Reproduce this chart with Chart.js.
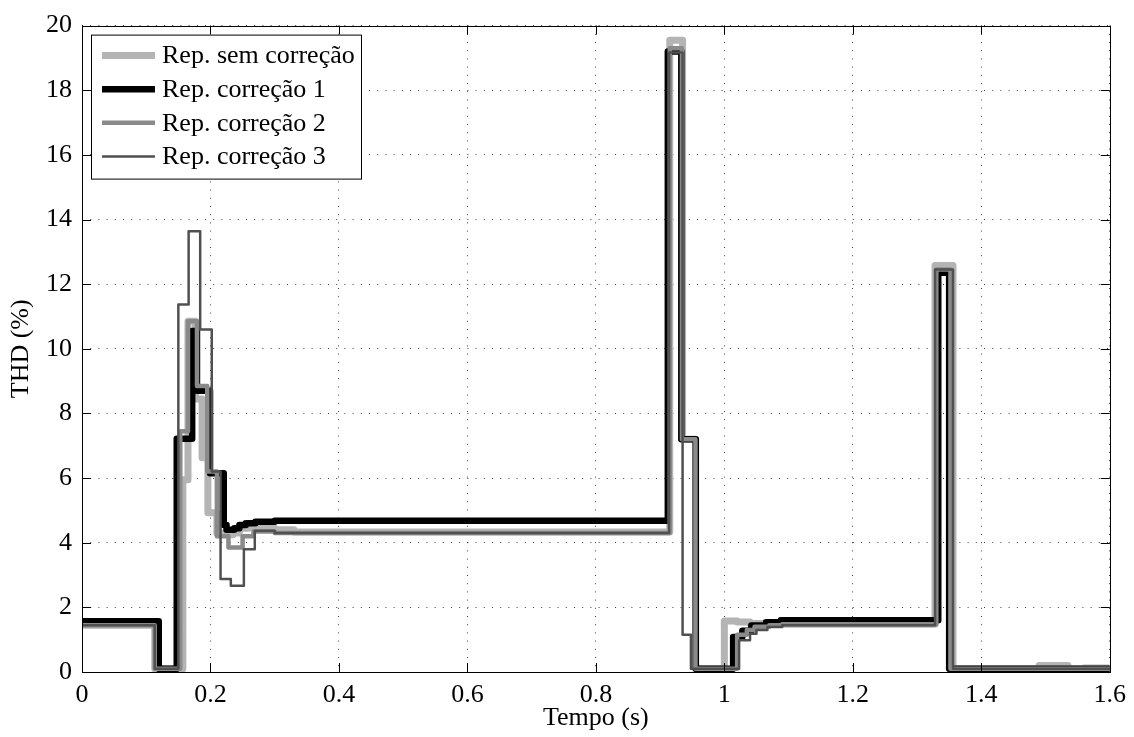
<!DOCTYPE html>
<html>
<head>
<meta charset="utf-8">
<title>THD x Tempo</title>
<script src="https://cdn.jsdelivr.net/npm/chart.js@4.4.1/dist/chart.umd.min.js"></script>
<style>
  html, body { margin: 0; padding: 0; background: #fff; }
  #wrap { width: 1134px; height: 737px; }
</style>
</head>
<body>
<div id="wrap"><canvas id="thdChart" width="1134" height="737"></canvas></div>
<script>
// Each series: switching instants (s) and the THD (%) held until the next instant
const tSem = [0, 0.1133, 0.157, 0.165, 0.1767, 0.187, 0.196, 0.21, 0.222, 0.235, 0.245, 0.26, 0.28, 0.30, 0.33, 0.915, 0.935, 0.955, 1.0, 1.02, 1.04, 1.06, 1.328, 1.356, 1.49, 1.535, 1.56, 1.6];
const vSem = [1.45, 0.1, 5.95, 10.85, 8.45, 6.63, 4.93, 4.3, 4.25, 4.3, 4.45, 4.5, 4.45, 4.4, 4.33, 19.55, 7.2, 0.1, 1.58, 1.55, 1.5, 1.48, 12.58, 0.1, 0.2, 0.1, 0.12, 0.15];

const tCorr1 = [0, 0.1195, 0.1475, 0.1715, 0.179, 0.1993, 0.2207, 0.225, 0.237, 0.245, 0.255, 0.27, 0.3, 0.912, 0.933, 0.9556, 1.0137, 1.028, 1.042, 1.065, 1.088, 1.333, 1.35, 1.6];
const vCorr1 = [1.57, 0.1, 7.22, 10.55, 8.7, 6.15, 4.55, 4.4, 4.45, 4.55, 4.6, 4.65, 4.68, 19.2, 7.2, 0.1, 1.08, 1.28, 1.44, 1.54, 1.6, 12.35, 0.1, 0.12];

const tCorr2 = [0, 0.1133, 0.153, 0.165, 0.179, 0.195, 0.21, 0.228, 0.25, 0.267, 0.3, 0.915, 0.934, 0.955, 1.02, 1.035, 1.047, 1.07, 1.09, 1.33, 1.352, 1.6];
const vCorr2 = [1.45, 0.1, 7.45, 10.85, 8.85, 6.2, 4.2, 3.85, 4.2, 4.35, 4.3, 19.3, 7.2, 0.1, 1.15, 1.3, 1.4, 1.45, 1.48, 12.45, 0.1, 0.12];

const tCorr3 = [0, 0.1133, 0.150, 0.166, 0.184, 0.202, 0.2157, 0.2317, 0.252, 0.269, 0.3, 0.914, 0.935, 0.948, 1.023, 1.04, 1.05, 1.067, 1.09, 1.328, 1.356, 1.6];
const vCorr3 = [1.45, 0.1, 11.37, 13.64, 10.6, 6.2, 2.88, 2.67, 3.8, 4.37, 4.3, 19.17, 1.15, 0.1, 0.98, 1.18, 1.3, 1.39, 1.45, 12.45, 0.1, 0.12];

const seriesLabels = ['Rep. sem correção', 'Rep. correção 1', 'Rep. correção 2', 'Rep. correção 3'];

const xTicks = [0, 0.2, 0.4, 0.6, 0.8, 1, 1.2, 1.4, 1.6];
const xTickLabels = ['0', '0.2', '0.4', '0.6', '0.8', '1', '1.2', '1.4', '1.6'];
const yTicks = [0, 2, 4, 6, 8, 10, 12, 14, 16, 18, 20];
const yTickLabels = ['0', '2', '4', '6', '8', '10', '12', '14', '16', '18', '20'];

const FONT = 'Liberation Serif, Times New Roman, serif';

const toSteps = (t, v) => t.map((x, i) => ({ x: x, y: v[i] }));

function stepSet(label, t, v, color, width, order) {
    return {
        label: label,
        data: toSteps(t, v),
        borderColor: color,
        backgroundColor: color,
        borderWidth: width,
        stepped: true,
        pointRadius: 0,
        borderJoinStyle: 'round',
        fill: false,
        order: order
    };
}

// Axes frame with inward tick marks on all four sides
const framePlugin = {
    id: 'frame',
    afterDatasetsDraw(chart) {
        const { ctx, chartArea: a, scales } = chart;
        const len = 9;
        ctx.save();
        ctx.strokeStyle = '#000';
        ctx.lineWidth = 1;
        ctx.beginPath();
        xTicks.forEach(v => {
            const px = Math.round(scales.x.getPixelForValue(v)) + 0.5;
            ctx.moveTo(px, a.bottom); ctx.lineTo(px, a.bottom - len);
            ctx.moveTo(px, a.top); ctx.lineTo(px, a.top + len);
        });
        yTicks.forEach(v => {
            const py = Math.round(scales.y.getPixelForValue(v)) + 0.5;
            ctx.moveTo(a.left, py); ctx.lineTo(a.left + len, py);
            ctx.moveTo(a.right, py); ctx.lineTo(a.right - len, py);
        });
        ctx.stroke();
        ctx.strokeRect(Math.round(a.left) + 0.5, Math.round(a.top) + 0.5,
            Math.round(a.right - a.left), Math.round(a.bottom - a.top));
        ctx.restore();
    }
};

// Boxed legend in the upper-left corner of the plot
const boxLegend = {
    id: 'boxLegend',
    afterDraw(chart) {
        const { ctx, chartArea: a } = chart;
        const x0 = a.left + 9, y0 = a.top + 9, w = 270, h = 144;
        const rowH = 33.6;
        ctx.save();
        ctx.fillStyle = '#fff';
        ctx.fillRect(x0, y0, w, h);
        ctx.strokeStyle = '#000';
        ctx.lineWidth = 1;
        ctx.strokeRect(x0 + 0.5, y0 + 0.5, w, h);
        ctx.font = '26px ' + FONT;
        ctx.textBaseline = 'middle';
        ctx.fillStyle = '#000';
        chart.data.datasets.forEach((ds, i) => {
            const cy = y0 + 21 + i * rowH;
            ctx.strokeStyle = ds.borderColor;
            ctx.lineWidth = ds.borderWidth;
            ctx.lineCap = 'butt';
            ctx.beginPath();
            ctx.moveTo(x0 + 11, cy);
            ctx.lineTo(x0 + 64, cy);
            ctx.stroke();
            ctx.fillText(ds.label, x0 + 71, cy + 1);
        });
        ctx.restore();
    }
};

const config = {
    type: 'line',
    data: {
        datasets: [
            stepSet(seriesLabels[0], tSem, vSem, '#b4b4b4', 7, 4),
            stepSet(seriesLabels[1], tCorr1, vCorr1, '#000000', 6.5, 3),
            stepSet(seriesLabels[2], tCorr2, vCorr2, '#8a8a8a', 4.5, 2),
            stepSet(seriesLabels[3], tCorr3, vCorr3, '#505050', 2.5, 1)
        ]
    },
    options: {
        responsive: false,
        animation: false,
        layout: { padding: { left: 0, top: 23, right: 24, bottom: 0 } },
        plugins: {
            legend: { display: false },
            tooltip: { enabled: false }
        },
        scales: {
            x: {
                type: 'linear',
                min: 0,
                max: 1.6,
                afterBuildTicks: s => { s.ticks = xTicks.map(v => ({ value: v })); },
                afterFit: s => { s.height = 65; },
                grid: { color: 'rgba(0,0,0,0.75)', lineWidth: 1, drawTicks: false },
                border: { display: false, dash: [1, 7.2] },
                ticks: {
                    padding: 8,
                    color: '#000',
                    maxRotation: 0,
                    font: { family: FONT, size: 26, lineHeight: 1.2 },
                    callback: (v, i) => xTickLabels[i]
                },
                title: {
                    display: true,
                    text: 'Tempo (s)',
                    color: '#000',
                    padding: { top: 0, bottom: 3 },
                    font: { family: FONT, size: 26, lineHeight: 1.2 }
                }
            },
            y: {
                min: 0,
                max: 20,
                afterBuildTicks: s => { s.ticks = yTicks.map(v => ({ value: v })); },
                afterFit: s => { s.width = 82; },
                grid: { color: 'rgba(0,0,0,0.75)', lineWidth: 1, drawTicks: false },
                border: { display: false, dash: [1, 7.2] },
                ticks: {
                    padding: 10,
                    color: '#000',
                    font: { family: FONT, size: 26, lineHeight: 1.2 },
                    callback: (v, i) => yTickLabels[i]
                },
                title: {
                    display: true,
                    text: 'THD (%)',
                    color: '#000',
                    padding: { top: 6, bottom: 0 },
                    font: { family: FONT, size: 26, lineHeight: 1.2 }
                }
            }
        }
    },
    plugins: [framePlugin, boxLegend]
};

const ctx = document.getElementById('thdChart').getContext('2d');
const thdChart = new Chart(ctx, config);
</script>
</body>
</html>
